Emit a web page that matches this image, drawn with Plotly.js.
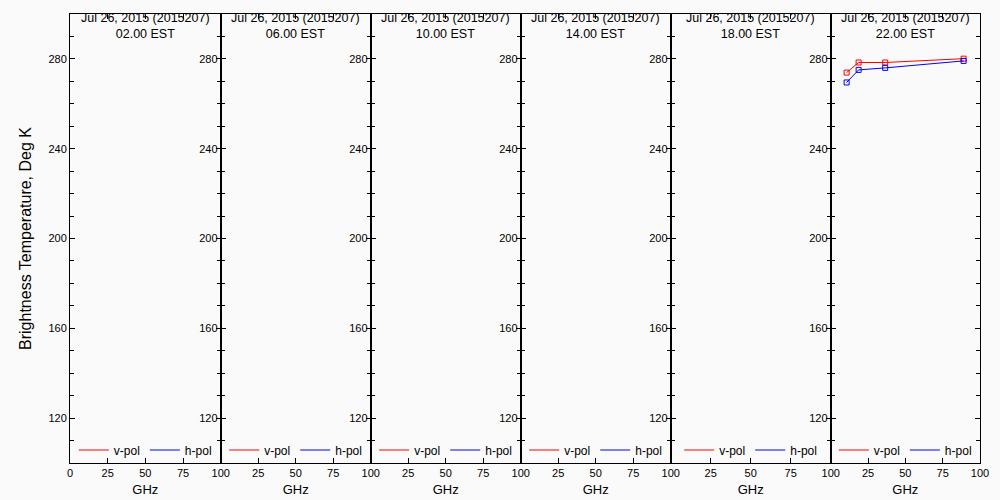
<!DOCTYPE html>
<html>
<head>
<meta charset="utf-8">
<script src="https://cdn.plot.ly/plotly-3.0.1.min.js"></script>
<style>
  html, body { margin: 0; padding: 0; background: #fafafa; }
  #chart { width: 1000px; height: 500px; }
</style>
</head>
<body>
<div id="chart"></div>
<script>
// ---- data ----
const freqs = [10.65, 18.7, 36.5, 89.0];           // GHz
const dateLabel = 'Jul 26, 2015 (2015207)';
const timeLabels = ['02.00 EST', '06.00 EST', '10.00 EST', '14.00 EST', '18.00 EST', '22.00 EST'];
const vpolByPanel = [[], [], [], [], [], [273.9, 278.4, 278.4, 280.1]];
const hpolByPanel = [[], [], [], [], [], [269.5, 275.1, 276.0, 279.1]];
const seriesNames = ['v-pol', 'h-pol'];
const seriesColors = ['#ff0000', '#0000ff'];
const xTickVals = [0, 25, 50, 75, 100];
const xTickText = ['0', '25', '50', '75', '100'];
const xTitle = 'GHz';
const yTitle = 'Brightness Temperature, Deg K';

// ---- layout helpers ----
const W = 1000, H = 500;
const margin = {l: 70, r: 20, t: 14, b: 37};
const plotW = W - margin.l - margin.r;
const plotH = H - margin.t - margin.b;
const edgesPx = [0, 150.7, 300.7, 450.7, 600.7, 760.7, 910];
const domains = edgesPx.slice(0, -1).map((e, i) => [e / plotW, edgesPx[i + 1] / plotW]);

const FONT = 'Liberation Sans, Arial, sans-serif';
const traces = [];
const layout = {
  width: W, height: H,
  margin: margin,
  paper_bgcolor: '#fafafa',
  plot_bgcolor: '#fafafa',
  font: {family: FONT, size: 11, color: '#000'},
  showlegend: true,
  annotations: []
};

domains.forEach((dom, i) => {
  const n = i + 1;
  const xa = n === 1 ? 'x' : 'x' + n;
  const ya = n === 1 ? 'y' : 'y' + n;
  const xk = n === 1 ? 'xaxis' : 'xaxis' + n;
  const yk = n === 1 ? 'yaxis' : 'yaxis' + n;
  const lk = n === 1 ? 'legend' : 'legend' + n;
  const series = [vpolByPanel[i], hpolByPanel[i]];

  series.forEach((vals, s) => {
    traces.push({
      type: 'scatter', mode: 'lines+markers',
      x: vals.length ? freqs : [], y: vals,
      xaxis: xa, yaxis: ya,
      name: seriesNames[s], showlegend: false,
      line: {color: seriesColors[s], width: 1},
      marker: {symbol: 'square-open', size: 5, color: seriesColors[s], line: {width: 1, color: seriesColors[s]}},
      hoverinfo: 'x+y'
    });
  });
  // legend-only entries (line symbol)
  series.forEach((vals, s) => {
    traces.push({
      type: 'scatter', mode: 'lines',
      x: [null], y: [null],
      xaxis: xa, yaxis: ya,
      name: seriesNames[s], legend: lk, showlegend: true,
      line: {color: seriesColors[s], width: 1},
      hoverinfo: 'skip'
    });
  });

  // the "0" of panels 2..6 sits under the previous panel's "100"
  const tickText = xTickText.map((t, k) => (n > 1 && k === 0) ? '' : t);

  layout[xk] = {
    domain: dom, anchor: ya, range: [0, 100],
    tickmode: 'array', tickvals: xTickVals, ticktext: tickText,
    ticks: 'inside', ticklen: 5, tickcolor: '#000',
    showline: true, linecolor: '#000', linewidth: 1, mirror: 'ticks',
    showgrid: false, zeroline: false,
    tickfont: {family: FONT, size: 11},
    title: {text: xTitle, font: {family: FONT, size: 13}, standoff: 6}
  };
  layout[yk] = {
    domain: [0, 1], anchor: xa, range: [100, 300],
    tick0: 0, dtick: 40,
    ticks: 'inside', ticklen: 5, tickcolor: '#000',
    minor: {dtick: 10, ticks: 'inside', ticklen: 4, tickcolor: '#000'},
    showline: true, linecolor: '#000', linewidth: 1, mirror: 'ticks',
    showgrid: false, zeroline: false,
    tickfont: {family: FONT, size: 11}
  };
  if (n === 1) {
    layout[yk].title = {text: yTitle, font: {family: FONT, size: 16}, standoff: 12};
  }

  layout[lk] = {
    orientation: 'h',
    x: (dom[0] + dom[1]) / 2, xanchor: 'center',
    y: 13 / plotH, yanchor: 'middle',
    bgcolor: 'rgba(0,0,0,0)',
    font: {family: FONT, size: 12},
    itemwidth: 30,
    tracegroupgap: 0
  };

  const cx = (dom[0] + dom[1]) / 2;
  layout.annotations.push({
    xref: 'paper', yref: 'paper', x: cx, y: 1 - 12 / plotH,
    xanchor: 'center', yanchor: 'middle', showarrow: false,
    text: dateLabel + '<br>' + timeLabels[i], font: {family: FONT, size: 12.5}
  });
});

Plotly.newPlot('chart', traces, layout, {displayModeBar: false, responsive: false});
</script>
</body>
</html>
